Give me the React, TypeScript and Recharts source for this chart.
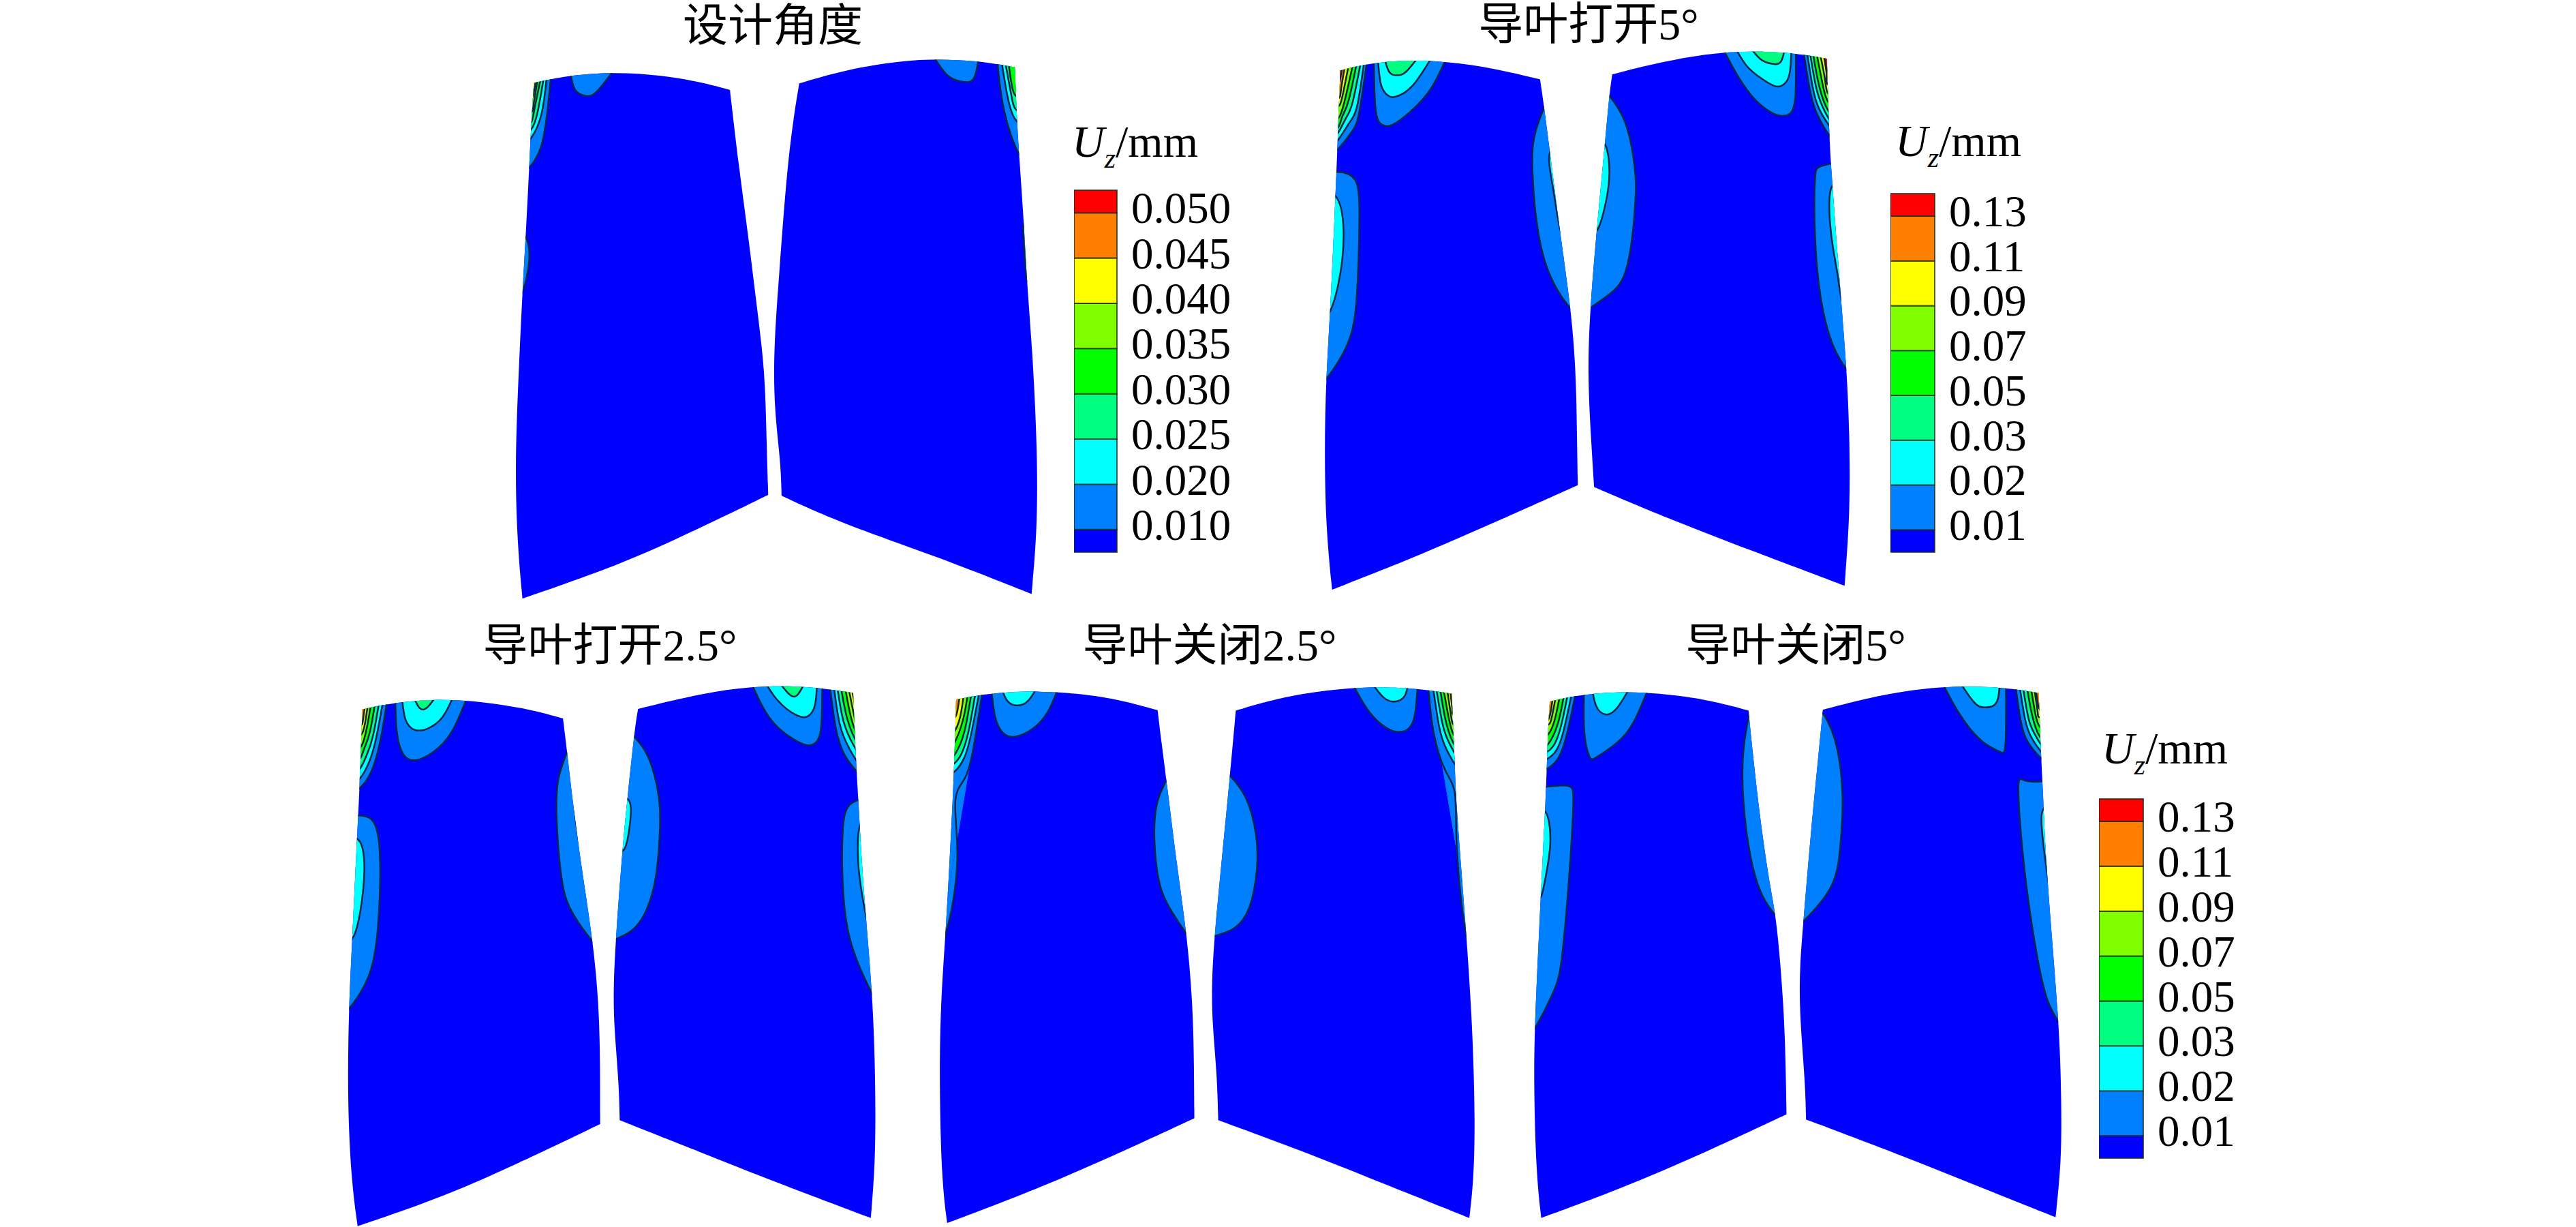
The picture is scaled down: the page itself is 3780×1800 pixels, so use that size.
import React from 'react'
import { Bar, BarChart, Curve, Scatter, ScatterChart, XAxis, YAxis } from 'recharts'

type Pts = number[][]
type Blob = [number, Pts]

const levelColors = ['#0080ff', '#00ffff', '#00ff80', '#00ff00', '#80ff00', '#ffff00', '#ff8000', '#ff0000']
const bladeColor = '#0000ff'
const lineColor = '#0b2545'

const legendColors = ['#0000ff', '#0080ff', '#00ffff', '#00ff80', '#00ff00', '#80ff00', '#ffff00', '#ff8000', '#ff0000']
const legendSpans = [0.5, 1, 1, 1, 1, 1, 1, 1, 0.5]
const legendTicks = [0.5, 1.5, 2.5, 3.5, 4.5, 5.5, 6.5, 7.5]
const fineLabels = ['0.010', '0.020', '0.025', '0.030', '0.035', '0.040', '0.045', '0.050']
const coarseLabels = ['0.01', '0.02', '0.03', '0.05', '0.07', '0.09', '0.11', '0.13']

// 设计角度
const designLeftOutline: Pts = [[62,212],[130,193],[230,184],[330,192],[420,212],[472,230],[490,420],[510,600],[530,800],[545,950],[548,1100],[552,1265],[400,1355],[250,1440],[38,1530],[28,1400],[22,1200],[30,950],[38,745],[45,600],[52,430],[57,300]]
const designLeftBlobs: Blob[] = [
  [0, [[136,165],[147,227],[171,245],[195,232],[238,165]]],
  [0, [[30,603],[45,607],[52,665],[38,745],[25,748]]],
]
const designLeftFan: Pts[] = [
  [[99,180],[90,285],[76,378],[51,430],[38,440]],
  [[90,180],[78,290],[57,351],[45,362]],
  [[85,180],[69,290],[56,331],[45,340]],
  [[80,180],[64,273],[57,311],[45,320]],
  [[73,180],[62,261],[58,285],[45,295]],
  [[68,180],[60,244],[45,255]],
]
const designRightOutline: Pts = [[617,213],[700,183],[800,160],[890,150],[990,155],[1068,172],[1072,300],[1077,400],[1087,570],[1093,720],[1105,900],[1115,1150],[1115,1350],[1103,1518],[900,1420],[700,1335],[580,1267],[578,1180],[565,1050],[563,900],[575,700],[590,450],[605,300]]
const designRightBlobs: Blob[] = [
  [0, [[890,130],[925,190],[955,208],[982,200],[994,130]]],
  [0, [[1100,570],[1086,575],[1088,650],[1093,715],[1105,720]]],
]
const designRightFan: Pts[] = [
  [[1030,140],[1045,280],[1075,390],[1095,405]],
  [[1038,140],[1055,260],[1072,310],[1090,320]],
  [[1045,140],[1060,240],[1070,280],[1090,290]],
  [[1053,140],[1065,235],[1085,245]],
]

// 导叶打开5°
const open5LeftOutline: Pts = [[95,180],[150,163],[230,153],[320,157],[420,175],[513,203],[520,260],[535,400],[553,580],[578,790],[588,950],[590,1100],[592,1240],[400,1345],[250,1425],[78,1507],[65,1350],[62,1150],[65,970],[75,780],[85,500],[90,350]]
const open5LeftBlobs: Blob[] = [
  [0, [[165,135],[169,279],[183,319],[204,319],[242,285],[285,226],[322,135]]],
  [1, [[173,135],[180,215],[195,244],[211,247],[247,218],[292,135]]],
  [2, [[185,135],[197,183],[214,192],[233,183],[265,135]]],
  [0, [[55,440],[105,442],[130,470],[135,560],[130,750],[110,880],[65,970],[50,985]]],
  [1, [[62,495],[90,510],[102,600],[92,720],[72,800],[58,810]]],
  [0, [[535,235],[505,330],[497,430],[510,600],[540,720],[578,790],[600,810]]],
  [1, [[548,350],[532,400],[540,480],[556,590],[572,600]]],
]
const open5LeftFan: Pts[] = [
  [[153,140],[135,285],[119,337],[89,383],[75,392]],
  [[147,140],[131,267],[114,314],[89,360],[75,368]],
  [[141,140],[121,261],[107,302],[90,340],[76,348]],
  [[133,140],[113,255],[100,296],[91,325],[77,333]],
  [[126,140],[107,244],[93,299],[78,308]],
  [[117,140],[102,232],[93,270],[78,278]],
  [[109,140],[97,226],[93,250],[78,258]],
  [[102,140],[93,209],[78,217]],
]
const open5RightOutline: Pts = [[664,190],[760,160],[890,130],[1030,132],[1113,150],[1118,350],[1122,430],[1135,650],[1155,950],[1160,1100],[1162,1300],[1150,1497],[950,1405],[780,1325],[626,1245],[620,1130],[612,950],[618,780],[632,580],[650,350],[658,240]]
const open5RightBlobs: Blob[] = [
  [0, [[890,110],[917,174],[955,244],[993,285],[1017,296],[1036,290],[1047,244],[1048,110]]],
  [1, [[916,110],[945,168],[979,203],[1007,221],[1026,212],[1036,180],[1039,110]]],
  [2, [[945,110],[974,151],[998,163],[1017,157],[1027,110]]],
  [0, [[645,225],[690,310],[710,420],[712,520],[695,680],[660,750],[617,788],[592,810]]],
  [1, [[635,365],[650,372],[658,440],[650,520],[634,585],[620,590]]],
  [0, [[1140,412],[1100,425],[1088,460],[1088,600],[1100,760],[1125,880],[1155,945],[1175,970]]],
  [1, [[1140,470],[1120,490],[1122,600],[1135,700],[1146,775],[1165,780]]],
]
const open5RightFan: Pts[] = [
  [[1062,115],[1076,221],[1092,290],[1121,351],[1135,362]],
  [[1069,115],[1083,221],[1097,279],[1121,325],[1135,335]],
  [[1075,115],[1090,221],[1104,273],[1120,308],[1135,318]],
  [[1081,115],[1097,221],[1117,285],[1135,298]],
  [[1088,115],[1104,215],[1116,261],[1135,272]],
  [[1095,115],[1109,203],[1115,238],[1135,248]],
  [[1102,115],[1112,186],[1114,215],[1135,222]],
  [[1108,115],[1113,180],[1135,186]],
]

// 导叶打开2.5°
const open25LeftOutline: Pts = [[90,245],[170,228],[280,218],[400,225],[520,245],[603,268],[612,340],[630,500],[655,680],[680,840],[695,1000],[698,1150],[698,1305],[500,1400],[300,1490],[78,1566],[62,1450],[52,1250],[55,1010],[65,820],[75,600],[83,450]]
const open25LeftBlobs: Blob[] = [
  [0, [[174,195],[178,300],[195,360],[225,375],[270,355],[320,300],[365,195]]],
  [1, [[190,195],[200,270],[225,298],[255,295],[295,265],[330,195]]],
  [2, [[214,195],[235,240],[258,238],[290,195]]],
  [0, [[45,515],[90,517],[120,535],[135,620],[130,800],[105,930],[55,1012],[35,1030]]],
  [1, [[52,570],[85,585],[95,660],[85,760],[68,825],[50,840]]],
  [0, [[625,325],[592,420],[587,530],[600,680],[630,770],[680,840],[700,860]]],
  [1, [[650,490],[633,497],[650,610],[665,610]]],
]
const open25LeftFan: Pts[] = [
  [[157,200],[135,330],[110,410],[83,447],[68,455]],
  [[147,200],[125,320],[105,385],[85,420],[70,428]],
  [[137,200],[118,310],[100,365],[85,395],[70,403]],
  [[127,200],[110,300],[95,345],[85,370],[70,378]],
  [[117,200],[102,290],[87,340],[70,348]],
  [[109,200],[97,280],[87,310],[70,318]],
  [[102,200],[92,270],[87,285],[70,293]],
]
const open25RightOutline: Pts = [[795,244],[930,210],[1080,185],[1230,185],[1345,203],[1352,380],[1358,470],[1370,700],[1395,970],[1402,1200],[1402,1400],[1390,1545],[1150,1455],[950,1375],[748,1295],[746,1200],[733,1050],[732,950],[738,830],[755,600],[770,450],[787,290]]
const open25RightBlobs: Blob[] = [
  [0, [[1075,155],[1130,265],[1190,320],[1232,337],[1258,315],[1265,250],[1266,155]]],
  [1, [[1108,155],[1150,220],[1200,260],[1230,262],[1248,230],[1253,155]]],
  [2, [[1140,155],[1180,205],[1205,205],[1232,155]]],
  [0, [[775,305],[820,365],[848,470],[850,570],[835,700],[790,800],[738,832],[712,855]]],
  [1, [[750,468],[773,480],[775,530],[762,598],[745,600]]],
  [0, [[1375,472],[1335,490],[1318,560],[1320,720],[1345,860],[1395,975],[1410,1000]]],
  [1, [[1378,533],[1360,550],[1358,640],[1368,720],[1382,790],[1395,795]]],
]
const open25RightFan: Pts[] = [
  [[1283,165],[1300,290],[1325,365],[1360,410],[1372,420]],
  [[1293,165],[1310,280],[1335,345],[1360,385],[1372,393]],
  [[1301,165],[1320,275],[1345,335],[1360,360],[1372,368]],
  [[1310,165],[1330,270],[1358,335],[1372,345]],
  [[1320,165],[1338,260],[1356,310],[1372,320]],
  [[1328,165],[1345,250],[1355,285],[1372,295]],
  [[1336,165],[1350,240],[1354,260],[1372,268]],
]

// 导叶关闭2.5°
const close25LeftOutline: Pts = [[75,220],[150,205],[270,197],[400,205],[500,222],[590,247],[600,330],[612,420],[640,650],[665,820],[680,1000],[683,1150],[684,1290],[480,1385],[260,1480],[52,1558],[38,1450],[32,1200],[35,1000],[48,820],[60,600],[70,400]]
const close25LeftBlobs: Blob[] = [
  [0, [[163,175],[175,265],[195,305],[225,315],[270,295],[310,250],[342,175]]],
  [1, [[186,175],[205,222],[232,235],[260,222],[290,175]]],
  [0, [[625,405],[590,480],[582,580],[595,690],[625,760],[665,820],[690,850]]],
]
const close25LeftFan: Pts[] = [
  [[145,180],[118,350],[95,425],[73,478],[78,600],[68,730],[48,818],[30,860]],
  [[138,180],[115,300],[95,370],[70,405],[55,412]],
  [[128,180],[108,295],[88,360],[68,385],[55,392]],
  [[118,180],[100,285],[85,335],[68,365],[55,372]],
  [[108,180],[93,270],[68,335],[55,343]],
  [[98,180],[85,265],[68,305],[55,312]],
  [[88,180],[78,250],[68,270],[55,276]],
]
const close25RightOutline: Pts = [[790,248],[920,210],[1080,188],[1230,188],[1342,205],[1350,380],[1352,470],[1378,800],[1395,1050],[1402,1300],[1398,1450],[1387,1545],[1150,1450],[950,1370],[745,1295],[742,1180],[730,1050],[728,950],[735,825],[755,620],[775,415]]
const close25RightBlobs: Blob[] = [
  [0, [[1078,160],[1130,250],[1180,295],[1215,302],[1245,270],[1256,160]]],
  [1, [[1125,160],[1165,212],[1195,225],[1222,210],[1234,160]]],
  [0, [[765,405],[815,470],[842,570],[843,660],[825,750],[785,805],[735,825],[700,850]]],
]
const close25RightFan: Pts[] = [
  [[1280,165],[1295,300],[1325,400],[1350,460],[1355,600],[1375,800],[1395,850]],
  [[1291,165],[1310,290],[1330,350],[1355,392],[1370,400]],
  [[1298,165],[1318,280],[1335,330],[1355,365],[1370,373]],
  [[1308,165],[1328,280],[1352,340],[1370,350]],
  [[1316,165],[1335,270],[1350,315],[1370,325]],
  [[1326,165],[1340,260],[1348,285],[1370,293]],
  [[1333,165],[1343,240],[1346,258],[1370,265]],
]

// 导叶关闭5°
const close5LeftOutline: Pts = [[77,225],[150,208],[270,198],[400,208],[500,225],[585,248],[595,350],[615,530],[640,700],[657,780],[675,1000],[680,1150],[682,1280],[480,1375],[260,1470],[55,1545],[42,1430],[36,1200],[38,1060],[50,800],[60,600],[68,440],[72,300]]
const close5LeftBlobs: Blob[] = [
  [0, [[165,175],[165,300],[178,365],[200,365],[260,320],[300,260],[336,175]]],
  [1, [[183,175],[195,235],[220,258],[250,240],[290,175]]],
  [0, [[45,445],[120,440],[137,475],[130,620],[110,860],[85,970],[38,1062],[20,1085]]],
  [1, [[50,505],[70,515],[78,590],[65,680],[55,722],[40,735]]],
  [0, [[590,240],[572,350],[572,480],[590,620],[620,720],[657,775],[680,800]]],
]
const close5LeftFan: Pts[] = [
  [[148,180],[120,310],[95,375],[65,400],[50,408]],
  [[138,180],[112,300],[90,355],[65,375],[50,383]],
  [[128,180],[105,290],[85,340],[68,355],[50,363]],
  [[118,180],[98,280],[72,335],[55,345]],
  [[108,180],[90,270],[72,310],[55,320]],
  [[98,180],[82,265],[72,285],[55,295]],
  [[88,180],[76,265],[55,275]],
]
const close5RightOutline: Pts = [[775,246],[920,208],[1075,185],[1230,187],[1327,203],[1333,370],[1337,430],[1345,650],[1380,1050],[1385,1250],[1385,1400],[1370,1543],[1150,1455],[950,1375],[732,1293],[730,1200],[715,1020],[716,900],[725,790],[745,550],[765,350]]
const close5RightBlobs: Blob[] = [
  [0, [[1070,155],[1120,250],[1180,325],[1225,352],[1242,330],[1243,155]]],
  [1, [[1112,155],[1160,225],[1190,240],[1220,225],[1228,155]]],
  [0, [[765,240],[805,320],[825,460],[820,590],[795,700],[725,787],[695,815]]],
  [0, [[1360,427],[1295,428],[1275,450],[1290,650],[1320,860],[1350,990],[1382,1050],[1400,1080]]],
  [1, [[1360,488],[1335,510],[1340,600],[1357,710],[1375,725]]],
]
const close5RightFan: Pts[] = [
  [[1265,165],[1280,270],[1300,330],[1335,372],[1350,382]],
  [[1275,165],[1292,270],[1310,320],[1335,355],[1350,363]],
  [[1283,165],[1300,265],[1315,305],[1333,335],[1350,345]],
  [[1293,165],[1310,260],[1330,315],[1350,325]],
  [[1303,165],[1318,255],[1330,290],[1350,300]],
  [[1311,165],[1324,250],[1328,265],[1350,275]],
  [[1318,165],[1327,240],[1350,250]],
]

const toPoints = (pts: Pts) => pts.map(([x, y]) => ({ x, y }))
const NoDot = () => <g />

// a basis curve goes smooth through the sides; tripling a vertex keeps it a sharp corner
function withCorners(points: { x: number; y: number }[]) {
  const out: { x: number; y: number }[] = []
  points.forEach((p, i) => {
    const a = points[(i + points.length - 1) % points.length]
    const b = points[(i + 1) % points.length]
    const t1 = Math.atan2(p.y - a.y, p.x - a.x)
    const t2 = Math.atan2(b.y - p.y, b.x - p.x)
    let turn = Math.abs(t2 - t1)
    if (turn > Math.PI) turn = 2 * Math.PI - turn
    if (turn > 0.5) out.push(p, p, p)
    else out.push(p)
  })
  out.push(points[0], points[0], points[0])
  return out
}

function drawOutline(clipId: string) {
  return (p: any) => {
    const shaped = withCorners(p.points)
    return (
      <g>
        <defs>
          <clipPath id={clipId}>
            <Curve points={shaped} type="basis" />
          </clipPath>
        </defs>
        <Curve points={shaped} type="basis" fill={bladeColor} stroke="none" />
      </g>
    )
  }
}

// last point of a fan line series is the far corner outside the blade
function drawContour(clipId: string, color: string, hasCorner: boolean) {
  return (p: any) => {
    const pts = hasCorner ? p.points.slice(0, -1) : p.points
    const first = pts[0]
    const last = pts[pts.length - 1]
    const far = p.points[p.points.length - 1]
    return (
      <g clipPath={`url(#${clipId})`}>
        {hasCorner && (
          <Curve
            points={[first, { x: first.x, y: far.y }, far, { x: far.x, y: last.y }, last]}
            type="linear"
            fill={color}
            stroke="none"
          />
        )}
        <Curve points={pts} type="natural" fill={color} stroke={lineColor} strokeWidth={2.5} />
      </g>
    )
  }
}

function bladeSeries(id: string, outline: Pts, blobs: Blob[], fan: Pts[], corner: number[]) {
  return [
    <Scatter key={id} data={toPoints(outline)} shape={NoDot} line={drawOutline(id)} isAnimationActive={false} />,
    ...blobs.map(([level, pts], i) => (
      <Scatter
        key={`${id}-b${i}`}
        data={toPoints(pts)}
        shape={NoDot}
        line={drawContour(id, levelColors[level], false)}
        isAnimationActive={false}
      />
    )),
    ...fan.map((pts, i) => (
      <Scatter
        key={`${id}-f${i}`}
        data={toPoints([...pts, corner])}
        shape={NoDot}
        line={drawContour(id, levelColors[i], true)}
        isAnimationActive={false}
      />
    )),
  ]
}

function Panel({ left, top, width, height, children }: any) {
  return (
    <div style={{ position: 'absolute', left, top }}>
      <ScatterChart width={width} height={height} margin={{ top: 0, right: 0, bottom: 0, left: 0 }}>
        <XAxis hide type="number" dataKey="x" domain={[0, 1568]} allowDataOverflow />
        <YAxis hide type="number" dataKey="y" domain={[0, 1568]} reversed allowDataOverflow />
        {children}
      </ScatterChart>
    </div>
  )
}

function Legend({ left, top, width, height, labels }: any) {
  const row: Record<string, number | string> = { name: 'Uz' }
  legendSpans.forEach((s, i) => { row[`s${i}`] = s })
  const pad = 24
  return (
    <div style={{ position: 'absolute', left, top: top - pad }}>
      <BarChart width={width + 200} height={height + pad * 2} data={[row]} margin={{ top: pad, right: 0, bottom: pad, left: 0 }} barCategoryGap={0}>
        <XAxis hide dataKey="name" />
        <YAxis
          orientation="right"
          type="number"
          domain={[0, 8]}
          ticks={legendTicks}
          interval={0}
          width={200}
          axisLine={false}
          tickLine={false}
          tickSize={0}
          tickMargin={21}
          tick={{ fill: '#000', fontSize: 65, fontFamily: '"Liberation Serif"', dy: -8 }}
          tickFormatter={(v: number) => labels[Math.floor(v)]}
        />
        {legendColors.map((c, i) => (
          <Bar key={c} dataKey={`s${i}`} stackId="a" fill={c} stroke="#1c2b1c" strokeWidth={2} strokeOpacity={0.75} isAnimationActive={false} />
        ))}
      </BarChart>
    </div>
  )
}

function Title({ cx, cy, text }: { cx: number; cy: number; text: string }) {
  return (
    <div
      style={{
        position: 'absolute', left: cx, top: cy, transform: 'translate(-50%, -50%)', whiteSpace: 'nowrap',
        fontSize: 66, lineHeight: 1, fontFamily: '"Liberation Serif", "Noto Sans CJK SC"', color: '#000',
      }}
    >
      {text}
    </div>
  )
}

function UnitLabel({ left, baseline }: { left: number; baseline: number }) {
  return (
    <div
      style={{
        position: 'absolute', left, top: baseline - 58, whiteSpace: 'nowrap',
        fontSize: 66, lineHeight: 1, fontFamily: '"Liberation Serif"', color: '#000',
      }}
    >
      <i>U</i>
      <i style={{ fontSize: 42, position: 'relative', top: 16 }}>z</i>
      /mm
    </div>
  )
}

export default function App() {
  return (
    <div style={{ position: 'absolute', left: 0, top: 0, width: 3780, height: 1800, background: '#fff', overflow: 'hidden' }}>
      <Title cx={1134} cy={38} text="设计角度" />
      <Title cx={2331} cy={36} text="导叶打开5°" />
      <Title cx={895} cy={947} text="导叶打开2.5°" />
      <Title cx={1775} cy={947} text="导叶关闭2.5°" />
      <Title cx={2635} cy={947} text="导叶关闭5°" />

      <Panel left={740} top={0} width={1100} height={900}>
        {bladeSeries('a1', designLeftOutline, designLeftBlobs, designLeftFan, [20, 150])}
        {bladeSeries('a2', designRightOutline, designRightBlobs, designRightFan, [1130, 120])}
      </Panel>
      <Panel left={1900} top={0} width={1100} height={900}>
        {bladeSeries('b1', open5LeftOutline, open5LeftBlobs, open5LeftFan, [60, 130])}
        {bladeSeries('b2', open5RightOutline, open5RightBlobs, open5RightFan, [1150, 110])}
      </Panel>
      <Panel left={480} top={900} width={900} height={900}>
        {bladeSeries('c1', open25LeftOutline, open25LeftBlobs, open25LeftFan, [50, 190])}
        {bladeSeries('c2', open25RightOutline, open25RightBlobs, open25RightFan, [1385, 150])}
      </Panel>
      <Panel left={1360} top={900} width={900} height={900}>
        {bladeSeries('d1', close25LeftOutline, close25LeftBlobs, close25LeftFan, [20, 170])}
        {bladeSeries('d2', close25RightOutline, close25RightBlobs, close25RightFan, [1400, 150])}
      </Panel>
      <Panel left={2230} top={900} width={900} height={900}>
        {bladeSeries('e1', close5LeftOutline, close5LeftBlobs, close5LeftFan, [30, 170])}
        {bladeSeries('e2', close5RightOutline, close5RightBlobs, close5RightFan, [1370, 150])}
      </Panel>

      <UnitLabel left={1573} baseline={233} />
      <Legend left={1576} top={279} width={63} height={531} labels={fineLabels} />
      <UnitLabel left={2781} baseline={232} />
      <Legend left={2774} top={284} width={65} height={526} labels={coarseLabels} />
      <UnitLabel left={3084} baseline={1123} />
      <Legend left={3080} top={1172} width={65} height={527} labels={coarseLabels} />
    </div>
  )
}
